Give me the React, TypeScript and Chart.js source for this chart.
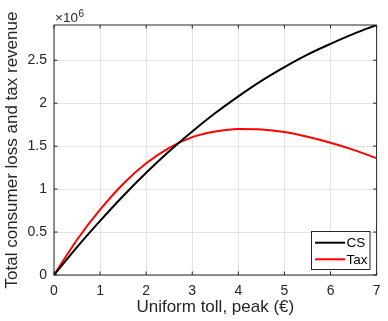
import React, { useEffect, useRef } from 'react';
import { Chart, registerables } from 'chart.js';

Chart.register(...registerables);

const tollValues = [0, 0.5, 1, 1.5, 2, 2.5, 3, 3.5, 4, 4.5, 5, 5.5, 6, 6.5, 7];
const csValues = [0, 0.325e6, 0.63e6, 0.92e6, 1.19e6, 1.44e6, 1.67e6, 1.885e6, 2.08e6, 2.26e6, 2.42e6, 2.565e6, 2.69e6, 2.806e6, 2.91e6];
const taxValues = [0, 0.41e6, 0.76e6, 1.06e6, 1.30e6, 1.48e6, 1.605e6, 1.67e6, 1.70e6, 1.695e6, 1.665e6, 1.61e6, 1.54e6, 1.457e6, 1.36e6];
const seriesLabels = ['CS', 'Tax'];
const seriesColors = ['#000000', '#ff0000'];
const xTickValues = [0, 1, 2, 3, 4, 5, 6, 7];
const yTickValues = [0, 0.5e6, 1e6, 1.5e6, 2e6, 2.5e6];
const xTitle = 'Uniform toll, peak (€)';
const yTitle = 'Total consumer loss and tax revenue';

const FONT = '"Liberation Sans", Arial, Helvetica, sans-serif';
const TEXT = '#262626';

const overlay = {
  id: 'overlay',
  afterDraw(chart: any) {
    const { ctx, chartArea, scales } = chart;
    const { left, right, top, bottom } = chartArea;
    ctx.save();
    ctx.strokeStyle = TEXT;
    ctx.lineWidth = 1;
    ctx.strokeRect(left, top, right - left, bottom - top);
    const tl = 3.5;
    ctx.beginPath();
    xTickValues.forEach((v) => {
      const px = scales.x.getPixelForValue(v);
      ctx.moveTo(px, bottom);
      ctx.lineTo(px, bottom - tl);
      ctx.moveTo(px, top);
      ctx.lineTo(px, top + tl);
    });
    yTickValues.forEach((v) => {
      const py = scales.y.getPixelForValue(v);
      ctx.moveTo(left, py);
      ctx.lineTo(left + tl, py);
      ctx.moveTo(right, py);
      ctx.lineTo(right - tl, py);
    });
    ctx.stroke();

    // exponent label
    ctx.fillStyle = TEXT;
    ctx.textBaseline = 'alphabetic';
    ctx.textAlign = 'left';
    ctx.font = `13.5px ${FONT}`;
    ctx.fillText('×10', 55, 21.7);
    const w = ctx.measureText('×10').width;
    ctx.font = `10px ${FONT}`;
    ctx.fillText('6', 55 + w + 0.5, 16.7);

    // legend
    const bx = 311.5, by = 231.5, bw = 58.5, bh = 38;
    ctx.fillStyle = '#ffffff';
    ctx.fillRect(bx, by, bw, bh);
    ctx.strokeStyle = TEXT;
    ctx.lineWidth = 1;
    ctx.strokeRect(bx, by, bw, bh);
    const rows = [242.7, 259.3];
    chart.data.datasets.forEach((ds: any, i: number) => {
      const y = rows[i];
      ctx.strokeStyle = ds.borderColor;
      ctx.lineWidth = 2;
      ctx.beginPath();
      ctx.moveTo(315, y);
      ctx.lineTo(345, y);
      ctx.stroke();
      ctx.fillStyle = '#000000';
      ctx.font = `13.5px ${FONT}`;
      ctx.textBaseline = 'middle';
      ctx.fillText(ds.label, 346.5, y + 0.5);
    });
    ctx.restore();
  },
};

export default function App() {
  const ref = useRef<HTMLCanvasElement | null>(null);
  useEffect(() => {
    if (!ref.current) return;
    const makeData = (vals: number[]) => tollValues.map((x, i) => ({ x, y: vals[i] }));
    const chart = new Chart(ref.current, {
      type: 'line',
      data: {
        datasets: [
          {
            label: seriesLabels[0],
            data: makeData(csValues),
            borderColor: seriesColors[0],
            backgroundColor: seriesColors[0],
            borderWidth: 2,
            pointRadius: 0,
            cubicInterpolationMode: 'monotone',
          },
          {
            label: seriesLabels[1],
            data: makeData(taxValues),
            borderColor: seriesColors[1],
            backgroundColor: seriesColors[1],
            borderWidth: 2,
            pointRadius: 0,
            cubicInterpolationMode: 'monotone',
          },
        ],
      },
      options: {
        animation: false,
        responsive: false,
        maintainAspectRatio: false,
        layout: { padding: { top: 25, right: 4, bottom: 0, left: 0 } },
        plugins: { legend: { display: false }, tooltip: { enabled: false } },
        scales: {
          x: {
            type: 'linear',
            min: 0,
            max: 7,
            afterBuildTicks: (s: any) => {
              s.ticks = xTickValues.map((v) => ({ value: v }));
            },
            afterFit: (s: any) => {
              s.height = 46;
            },
            ticks: {
              padding: 7.5,
              color: TEXT,
              font: { family: FONT, size: 14 },
              maxRotation: 0,
              callback: (v: any) => String(v),
            },
            grid: { color: '#e3e3e3', drawTicks: false, lineWidth: 1 },
            border: { display: false },
            title: {
              display: true,
              text: xTitle,
              color: TEXT,
              font: { family: FONT, size: 17 },
              padding: { top: 0, bottom: 3.8 },
            },
          },
          y: {
            type: 'linear',
            min: 0,
            max: 2.91e6,
            afterBuildTicks: (s: any) => {
              s.ticks = yTickValues.map((v) => ({ value: v }));
            },
            afterFit: (s: any) => {
              s.width = 54;
            },
            ticks: {
              padding: 7,
              color: TEXT,
              font: { family: FONT, size: 14 },
              callback: (v: any) => String(Number(v) / 1e6),
            },
            grid: { color: '#e3e3e3', drawTicks: false, lineWidth: 1 },
            border: { display: false },
            title: {
              display: true,
              text: yTitle,
              color: TEXT,
              font: { family: FONT, size: 17 },
              padding: { top: 2, bottom: 0 },
            },
          },
        },
      },
      plugins: [overlay],
    });
    return () => chart.destroy();
  }, []);
  return (
    <div style={{ position: 'absolute', left: 0, top: 0, width: 388, height: 321, background: '#fff' }}>
      <canvas ref={ref} width={388} height={321} style={{ display: 'block' }} />
    </div>
  );
}
